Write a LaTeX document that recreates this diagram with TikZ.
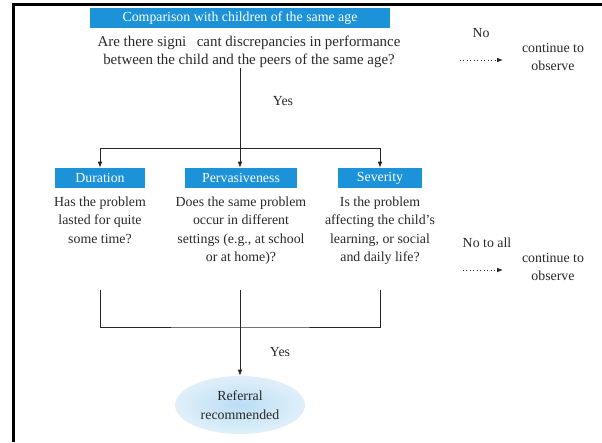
\documentclass[tikz,border=0pt]{standalone}
\usepackage{fontspec}
\setmainfont{Liberation Serif}
\usetikzlibrary{positioning,arrows.meta,shapes.geometric}
\definecolor{bannerblue}{RGB}{28,146,216}
\definecolor{refblue}{RGB}{186,221,244}
\definecolor{inkgray}{RGB}{40,40,40}

\begin{document}
\begin{tikzpicture}[x=0.75pt,y=-0.75pt,font=\fontsize{10.4}{13.9}\selectfont,
banner/.style={fill=bannerblue,text=white,minimum height=15pt,inner sep=0pt},
qtext/.style={align=center,inner sep=0pt,text=inkgray},
line/.style={draw=black!85,line width=0.6pt},
edge/.style={line,-{Latex[length=4.5pt,width=3.5pt]}},
dotedge/.style={edge,dotted}]

\useasboundingbox (0,0) rectangle (602,442);
\draw[line width=2pt] (13.5,442) -- (13.5,4.5) -- (602,4.5);

% nodes
\node[banner,minimum width=225pt](cmp) at (240,18) {Comparison with children of the same age};
\node[qtext,font=\fontsize{11.2}{13.9}\selectfont](q) at (249,52) {Are there signi\hspace{0.7em}cant discrepancies in performance\\between the child and the peers of the same age?};

\node[banner,minimum width=67.5pt](dur) at (100,178) {Duration};
\node[banner,minimum width=84pt](per) at (241,178) {Pervasiveness};
\node[banner,minimum width=63pt](sev) at (380,178) {Severity};

\node[qtext,below=6pt of dur](durq) {Has the problem\\lasted for quite\\some time?};
\node[qtext,below=6pt of per](perq) {Does the same problem\\occur in different\\settings (e.g., at school\\or at home)?};
\node[qtext,below=6pt of sev](sevq) {Is the problem\\affecting the child's\\learning, or social\\and daily life?};

\node[ellipse,qtext,minimum width=97.5pt,minimum height=43.5pt,inner color=refblue,outer color=refblue!45](ref) at (240,405) {Referral\\recommended};

% side labels
\node[qtext](yes1) at (283,101) {Yes};
\node[qtext](yes2) at (280,352) {Yes};
\node[qtext](no1) at (481,33) {No};
\node[qtext](no2) at (487,243) {No to all};
\node[qtext](cont1) at (553,57) {continue to\\observe};
\node[qtext](cont2) at (553,267) {continue to\\observe};

% Hidden nodes
\coordinate (split) at (240,148);
\coordinate (durend) at (100,290);
\coordinate (perend) at (240,290);
\coordinate (sevend) at (380,290);
\coordinate (join) at (240,327);
\coordinate (dot1) at (460,60);
\coordinate (dot2) at (463,270);

% connectors
\draw[line] (q.south -| split) -- (split);
\draw[edge] (split) -| (dur);
\draw[edge] (split) -- (split |- per.north);
\draw[edge] (split) -| (sev);
\draw[line] (durend) |- (join) -| (sevend);
\draw[line] (perend) -- (join);
\draw[edge] (join) -- (ref);
\draw[dotedge] (dot1) -- ++(43,0);
\draw[dotedge] (dot2) -- ++(40,0);

\end{tikzpicture}
\end{document}
